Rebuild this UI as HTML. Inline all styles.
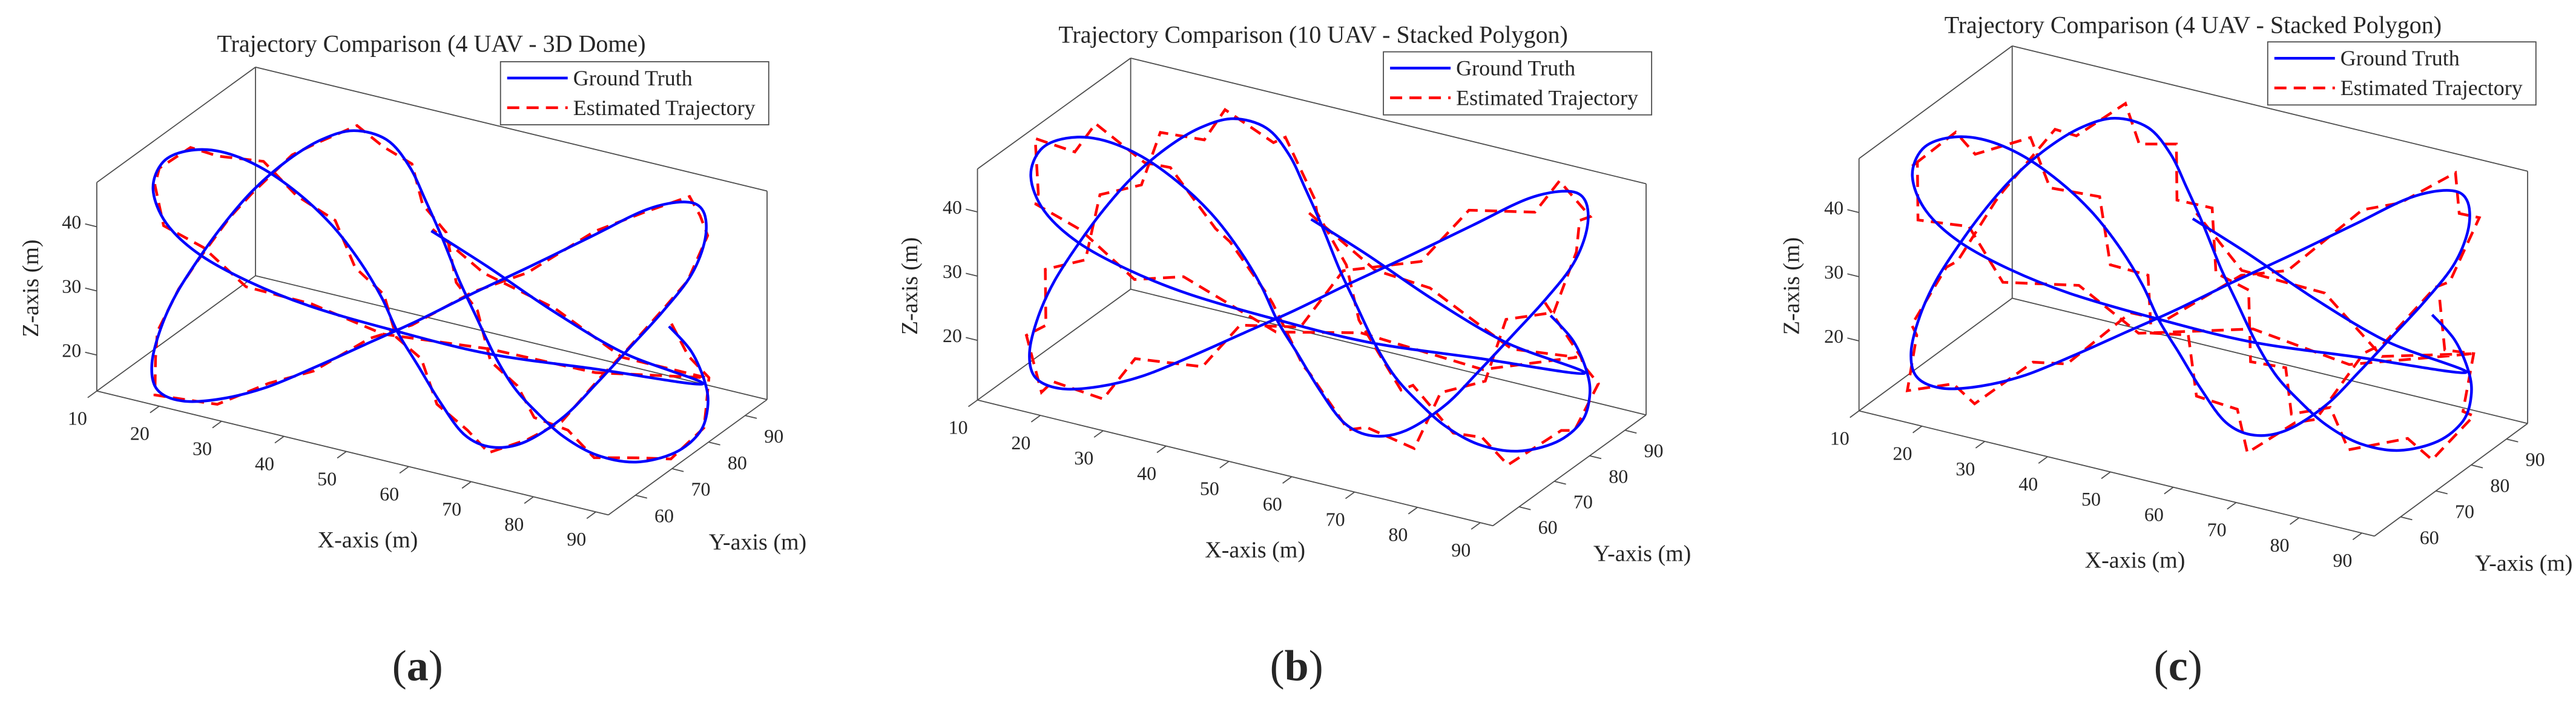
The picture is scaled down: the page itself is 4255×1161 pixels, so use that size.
<!DOCTYPE html>
<html><head><meta charset="utf-8"><style>
html,body{margin:0;padding:0;background:#fff;overflow:hidden;}
svg{display:block;}
text{font-family:"Liberation Serif",serif;fill:#262626;}
</style></head><body>
<svg id="fig" xmlns="http://www.w3.org/2000/svg" width="4255" height="1161" viewBox="0 0 4255 1161"></svg>
<script>
// ---- data (metres) ----
const gtX = [89.0,92.6,94.8,95.2,93.9,89.9,83.7,77.5,72.2,67.8,64.2,61.1,58.0,55.3,52.7,50.0,47.4,43.8,38.5,33.2,27.9,22.5,18.1,14.1,10.1,7.5,6.1,7.0,11.0,17.2,24.3,32.3,40.3,48.3,57.1,66.9,76.6,85.5,91.7,94.5,94.8,92.6,88.1,82.8,77.5,72.2,66.0,60.7,56.2,52.2,48.7,45.6,42.9,39.4,35.0,29.6,23.4,17.2,11.9,7.9,6.3,8.4,13.7,21.7,31.4,43.8,59.8,77.5,94.4,81.9,70.4,59.8,50.9];
const gtZ = [34.1,31.0,26.6,22.9,18.7,14.6,11.7,11.3,12.9,15.7,18.7,22.9,28.5,33.5,39.2,44.5,49.2,52.5,52.7,50.0,45.6,39.8,33.9,27.7,20.7,14.5,8.6,4.9,4.1,5.9,9.3,14.4,19.8,25.2,31.5,38.3,45.2,51.5,54.1,53.3,49.1,43.0,36.3,29.4,22.6,16.1,10.7,8.6,9.5,13.8,18.6,22.8,27.8,32.6,37.1,40.8,43.5,44.4,43.3,40.6,36.0,31.2,27.6,25.2,23.7,23.1,23.0,24.7,26.4,28.2,32.1,36.6,40.0];
const gtY = 74.3;
const estDzA = [0.5,-0.8,1.0,-0.6,0.9,-1.1,0.7,-0.5,1.2,-0.9,0.4,-1.0,0.8,-0.6,1.1,-0.7,0.5,-1.2,0.9,-0.4,1.0,-0.8,0.6,-1.1,0.7,-0.5,1.2,-0.9,0.3,-1.0,0.8,-0.7,1.1,-0.6,0.5,-1.2,0.9,-0.4,1.0,-0.8,0.6,-1.1,0.7,-0.5,1.2,-0.9,0.4,-1.0,0.8,-0.6,1.1,-0.7,0.5,-1.2,0.9,-0.4,1.0,-0.8,0.6,-1.1,0.7,-0.5,1.2,-0.9,0.4,-1.0,0.8,-0.6,1.1,-0.7,0.5,-1.2,0.3];
const estDxA = [0.4,-0.5,0.6,-0.3,0.7,-0.6,0.2,-0.5,0.6,-0.4,0.5,-0.7,0.3,-0.4,0.6,-0.5,0.4,-0.6,0.5,-0.3,0.7,-0.4,0.5,-0.6,0.3,-0.5,0.6,-0.4,0.2,-0.6,0.5,-0.3,0.7,-0.5,0.4,-0.6,0.5,-0.2,0.6,-0.5,0.4,-0.6,0.3,-0.5,0.7,-0.4,0.3,-0.6,0.5,-0.4,0.6,-0.3,0.4,-0.7,0.5,-0.3,0.6,-0.5,0.4,-0.6,0.3,-0.4,0.7,-0.5,0.3,-0.6,0.4,-0.3,0.6,-0.4,0.3,-0.5,0.2];
const estDzB = [1.8,-2.2,0.9,2.4,-1.6,2.0,-2.5,1.2,-0.8,2.3,-1.9,1.5,-2.4,0.7,2.1,-1.3,2.6,-2.0,1.1,-1.7,2.2,-0.9,1.9,-2.6,1.4,-1.1,2.5,-2.1,0.8,-1.8,2.3,-1.5,1.0,-2.4,1.7,-0.7,2.2,-1.9,1.3,-2.3,0.9,2.0,-1.6,2.4,-1.2,1.8,-2.5,1.1,-0.9,2.1,-1.7,2.6,-1.4,0.8,-2.2,1.9,-1.0,2.3,-1.8,1.5,-2.4,0.7,2.0,-1.3,2.5,-2.0,1.2,-1.6,2.2,-0.8,1.7,-2.1,1.0];
const estDxB = [-0.9,1.2,-0.5,1.4,-1.1,0.8,-1.5,0.6,1.3,-0.7,1.0,-1.4,0.5,1.2,-0.9,1.5,-0.6,1.1,-1.3,0.7,-1.0,1.4,-0.8,0.9,-1.5,1.2,-0.5,1.0,-1.2,0.6,-1.4,1.3,-0.7,0.9,-1.1,1.5,-0.6,1.0,-1.3,0.8,-1.2,0.5,1.4,-0.9,1.1,-0.7,1.3,-1.0,0.6,-1.5,0.9,-0.8,1.2,-1.4,0.7,-1.1,1.0,-0.6,1.4,-0.9,1.2,-1.3,0.5,1.1,-0.8,1.5,-1.0,0.7,-1.2,0.9,-0.6,1.3,-0.5];
const estDzC = [2.6,-1.9,3.0,-2.7,1.2,-3.1,2.2,-1.4,2.9,-2.4,1.6,-3.0,2.5,-1.1,3.2,-2.2,1.8,-2.9,2.7,-1.5,3.1,-2.6,1.3,-3.2,2.4,-1.7,2.8,-2.5,1.1,-3.0,2.3,-1.8,3.2,-2.1,1.5,-2.8,2.6,-1.2,3.0,-2.4,1.9,-3.1,2.2,-1.6,2.9,-2.7,1.4,-3.0,2.5,-1.3,3.1,-2.2,1.7,-2.9,2.8,-1.4,3.0,-2.6,1.2,-3.2,2.4,-1.8,2.7,-2.3,1.6,-3.0,2.1,-1.5,3.2,-2.5,1.3,-2.8,1.0];
const estDxC = [1.2,-1.6,0.8,-1.3,1.7,-0.9,1.4,-1.8,0.6,-1.2,1.5,-1.0,1.8,-0.7,1.3,-1.6,0.9,-1.4,1.7,-0.8,1.1,-1.7,1.4,-0.6,1.6,-1.3,0.9,-1.5,1.8,-1.0,1.2,-1.4,0.7,-1.8,1.5,-0.9,1.3,-1.6,1.0,-1.2,1.7,-0.8,1.4,-1.5,0.6,-1.7,1.2,-1.1,1.8,-0.7,1.5,-1.3,0.9,-1.6,1.1,-1.4,1.7,-0.9,1.3,-1.8,0.8,-1.2,1.6,-1.0,1.4,-1.5,0.7,-1.7,1.2,-0.9,1.5,-1.1,0.6];
const xTicks = [10,20,30,40,50,60,70,80,90];
const yTicks = [60,70,80,90];
const zTicks = [20,30,40];
const titles = ["Trajectory Comparison (4 UAV - 3D Dome)","Trajectory Comparison (10 UAV - Stacked Polygon)","Trajectory Comparison (4 UAV - Stacked Polygon)"];
const letters = ["a","b","c"];
</script>
<script>
const NS="http://www.w3.org/2000/svg";
const fig=document.getElementById('fig');
const SX=0.9135, SY=0.744;
function mk(tag,parent,attrs){const e=document.createElementNS(NS,tag);for(const k in attrs)e.setAttribute(k,attrs[k]);parent.appendChild(e);return e;}
const panels=[
 {ox:0,  F:[175,868],X:[925,275],Y:[287,-256],H:463,zr:[14.4,46.9],dz:estDzA,dx:estDxA,title:[780,115],leg:[905,137],xl:[665,1215],yl:[1370,1220],zl:[55,640],let:[755,1510]},
 {ox:1420,F:[213,888],X:[932,279],Y:[277,-246],H:513,zr:[10.7,46.7],dz:estDzB,dx:estDxB,title:[820,95],leg:[947,115],xl:[715,1237],yl:[1415,1245],zl:[90,635],let:[790,1510]},
 {ox:2835,F:[258,912],X:[932,278],Y:[277,-250],H:560,zr:[9.1,48.4],dz:estDzC,dx:estDxC,title:[862,73],leg:[997,93],xl:[757,1260],yl:[1460,1267],zl:[135,635],let:[835,1510]}
];
const XR=[10,92], YR=[52.6,96];
function smooth(pts){const f=v=>v.toFixed(1);let d='M'+f(pts[0][0])+','+f(pts[0][1]);for(let i=0;i<pts.length-1;i++){const p0=pts[Math.max(0,i-1)],p1=pts[i],p2=pts[i+1],p3=pts[Math.min(pts.length-1,i+2)];const c1=[p1[0]+(p2[0]-p0[0])/6,p1[1]+(p2[1]-p0[1])/6],c2=[p2[0]-(p3[0]-p1[0])/6,p2[1]-(p3[1]-p1[1])/6];d+='C'+f(c1[0])+','+f(c1[1])+' '+f(c2[0])+','+f(c2[1])+' '+f(p2[0])+','+f(p2[1]);}return d;}
panels.forEach((p,pi)=>{
 const M=v=>[p.ox+v[0]*SX, v[1]*SY];
 const g=mk('g',fig,{});
 
 
 const Pz=(x,y,z)=>{const fx=(x-XR[0])/(XR[1]-XR[0]),fy=(y-YR[0])/(YR[1]-YR[0]),fz=(z-p.zr[0])/(p.zr[1]-p.zr[0]);return [p.F[0]+fx*p.X[0]+fy*p.Y[0],p.F[1]+fx*p.X[1]+fy*p.Y[1]-fz*p.H];};
 const P=(x,y,z)=>M(Pz(x,y,z));
 const F=p.F,Xv=p.X,Yv=p.Y,H=p.H;
 const add=(a,b)=>[a[0]+b[0],a[1]+b[1]];
 const A=F,B=add(F,Xv),C=add(F,Yv),D=add(B,Yv),up=v=>[v[0],v[1]-H];
 const edges=[[A,up(A)],[A,B],[A,C],[C,D],[B,D],[C,up(C)],[D,up(D)],[up(A),up(C)],[up(C),up(D)]];
 const box=mk('g',g,{stroke:'#4d4d4d','stroke-width':1.8,fill:'none'});
 
 
 const ln=(a,b)=>{const m1=M(a),m2=M(b);mk('line',box,{x1:m1[0],y1:m1[1],x2:m2[0],y2:m2[1]});};
 edges.forEach(e=>ln(e[0],e[1]));
 const yl=Math.hypot(Yv[0],Yv[1]),xl=Math.hypot(Xv[0],Xv[1]);
 xTicks.forEach(t=>{const q=Pz(t,YR[0],p.zr[0]);ln(q,[q[0]-Yv[0]/yl*22,q[1]-Yv[1]/yl*22]);
  const m=M([q[0]-35,q[1]+75]);
  const tx=mk('text',g,{x:m[0],y:m[1],'font-size':32,'text-anchor':'middle'});tx.textContent=t;
  
  });
 yTicks.forEach(t=>{const q=Pz(XR[1],t,p.zr[0]);ln(q,[q[0]+Xv[0]/xl*22,q[1]+Xv[1]/xl*22]);
  const m=M([q[0]+52,q[1]+60]);
  const tx=mk('text',g,{x:m[0],y:m[1],'font-size':32,'text-anchor':'middle'});tx.textContent=t;
  
  });
 zTicks.forEach(t=>{const q=Pz(XR[0],YR[0],t);ln(q,[q[0]-Xv[0]/xl*22,q[1]-Xv[1]/xl*22]);
  const m=M([q[0]-28,q[1]+4]);
  const tx=mk('text',g,{x:m[0],y:m[1],'font-size':32,'text-anchor':'end'});tx.textContent=t;
  
  });
 const gt=gtX.map((x,i)=>P(x,gtY,gtZ[i]));
 const est=gtX.map((x,i)=>P(x+(p.dx[i]||0),gtY,gtZ[i]+(p.dz[i]||0)));
 const ep=mk('polyline',g,{points:est.map(q=>q[0].toFixed(1)+','+q[1].toFixed(1)).join(' '),fill:'none',stroke:'#ff0000','stroke-width':4.5,'stroke-dasharray':'20 12'});
 
 
 const gp=mk('path',g,{d:smooth(gt),fill:'none',stroke:'#0000ff','stroke-width':4.5,'stroke-linejoin':'round'});
 
 
 let m=M(p.title);
 const ti=mk('text',g,{x:m[0],y:m[1],'font-size':40,'text-anchor':'middle'});ti.textContent=titles[pi];
 
 
 m=M(p.xl);
 const xa=mk('text',g,{x:m[0],y:m[1],'font-size':38,'text-anchor':'middle'});xa.textContent='X-axis (m)';
 
 
 m=M(p.yl);
 const ya=mk('text',g,{x:m[0],y:m[1],'font-size':38,'text-anchor':'middle'});ya.textContent='Y-axis (m)';
 
 
 m=M(p.zl);
 const za=mk('text',g,{x:m[0],y:m[1],'font-size':38,'text-anchor':'middle',transform:'rotate(-90 '+m[0]+' '+m[1]+')',dy:13});za.textContent='Z-axis (m)';
 
 
 const lg=mk('g',g,{});
 
 
 const L=M(p.leg);
 mk('rect',lg,{x:L[0],y:L[1],width:485*SX,height:140*SY,fill:'#fff',stroke:'#4d4d4d','stroke-width':1.8});
 mk('line',lg,{x1:L[0]+11,y1:L[1]+27,x2:L[0]+111,y2:L[1]+27,stroke:'#0000ff','stroke-width':4.5});
 mk('line',lg,{x1:L[0]+11,y1:L[1]+76,x2:L[0]+111,y2:L[1]+76,stroke:'#ff0000','stroke-width':4.5,'stroke-dasharray':'20 12'});
 const l1=mk('text',lg,{x:L[0]+120,y:L[1]+39,'font-size':36});l1.textContent='Ground Truth';
 
 
 const l2=mk('text',lg,{x:L[0]+120,y:L[1]+88,'font-size':36});l2.textContent='Estimated Trajectory';
 
 
 m=M(p.let);
 const pl=mk('text',g,{x:m[0],y:m[1],'font-size':72,'text-anchor':'middle'});
 
 
 pl.appendChild(document.createTextNode('('));
 const b=mk('tspan',pl,{'font-weight':'bold'});b.textContent=letters[pi];
 pl.appendChild(document.createTextNode(')'));
});
</script>
</body></html>
